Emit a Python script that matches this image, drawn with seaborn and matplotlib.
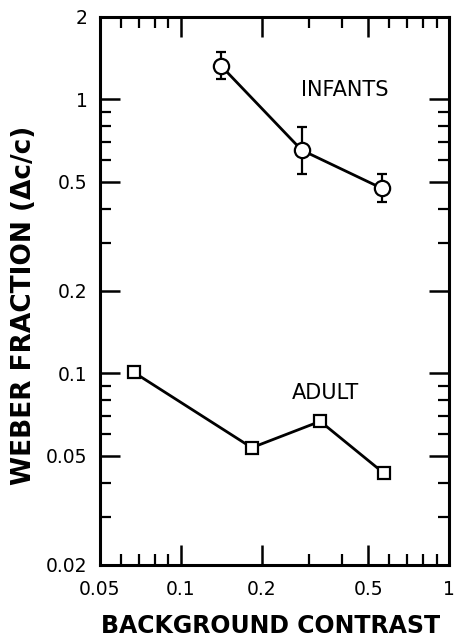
import matplotlib
matplotlib.use("Agg")
import matplotlib.pyplot as plt
import matplotlib.ticker as mticker
import seaborn as sns
import pandas as pd

# ---- data ----
infant_contrast = [0.141, 0.282, 0.562]
infant_weber = [1.33, 0.654, 0.474]
infant_err_hi = [1.49, 0.794, 0.535]
infant_err_lo = [1.19, 0.536, 0.421]

adult_contrast = [0.0668, 0.184, 0.331, 0.571]
adult_weber = [0.101, 0.0536, 0.0669, 0.0433]

x_ticks = [0.05, 0.1, 0.2, 0.5, 1]
x_ticklabels = ["0.05", "0.1", "0.2", "0.5", "1"]
y_ticks = [0.02, 0.05, 0.1, 0.2, 0.5, 1, 2]
y_ticklabels = ["0.02", "0.05", "0.1", "0.2", "0.5", "1", "2"]

sns.set_theme(style="white")
plt.rcParams["font.family"] = ["DejaVu Sans"]
plt.rcParams["text.color"] = "black"
plt.rcParams["axes.labelcolor"] = "black"
plt.rcParams["xtick.color"] = "black"
plt.rcParams["ytick.color"] = "black"

infants = pd.DataFrame({"contrast": infant_contrast, "weber": infant_weber})
adults = pd.DataFrame({"contrast": adult_contrast, "weber": adult_weber})

fig = plt.figure(figsize=(4.56, 6.38), dpi=100)
ax = fig.add_axes([100 / 456, 73 / 638, 349 / 456, 548 / 638])

ax.set_xscale("log")
ax.set_yscale("log")

# error bars for infants
yerr = [
    [w - lo for w, lo in zip(infant_weber, infant_err_lo)],
    [hi - w for w, hi in zip(infant_weber, infant_err_hi)],
]
ax.errorbar(infant_contrast, infant_weber, yerr=yerr, fmt="none",
            ecolor="black", elinewidth=1.6, capsize=3.6, capthick=1.6, zorder=2)

sns.lineplot(data=infants, x="contrast", y="weber", ax=ax, color="black",
             linewidth=2.0, marker="o", markersize=11, markerfacecolor="white",
             markeredgecolor="black", markeredgewidth=1.6, zorder=3)
sns.lineplot(data=adults, x="contrast", y="weber", ax=ax, color="black",
             linewidth=2.0, marker="s", markersize=9, markerfacecolor="white",
             markeredgecolor="black", markeredgewidth=1.6, zorder=3)

ax.set_xlim(0.05, 1)
ax.set_ylim(0.02, 2)

ax.xaxis.set_major_locator(mticker.FixedLocator(x_ticks))
ax.xaxis.set_major_formatter(mticker.FixedFormatter(x_ticklabels))
ax.xaxis.set_minor_locator(mticker.LogLocator(base=10, subs=range(2, 10), numticks=20))
ax.xaxis.set_minor_formatter(mticker.NullFormatter())
ax.yaxis.set_major_locator(mticker.FixedLocator(y_ticks))
ax.yaxis.set_major_formatter(mticker.FixedFormatter(y_ticklabels))
ax.yaxis.set_minor_locator(mticker.LogLocator(base=10, subs=range(2, 10), numticks=20))
ax.yaxis.set_minor_formatter(mticker.NullFormatter())

ax.tick_params(which="both", direction="in", top=True, right=True,
               bottom=True, left=True, color="black", labelcolor="black")
ax.tick_params(which="major", length=14.5, width=1.8, labelsize=13.5)
ax.tick_params(which="minor", length=8, width=1.6)
ax.tick_params(axis="x", which="major", pad=11)
ax.tick_params(axis="y", which="major", pad=9)

for s in ax.spines.values():
    s.set_color("black")
    s.set_linewidth(2.2)

ax.set_xlabel("BACKGROUND CONTRAST", fontsize=17, fontweight="bold", va="center",
              color="black")
ax.xaxis.set_label_coords(0.49, -0.111)
ax.set_ylabel("WEBER FRACTION (\u0394c/c)", fontsize=19, fontweight="bold", va="center",
              color="black")
ax.yaxis.set_label_coords(-0.219, 0.474)

ax.text(0.409, 1.08, "INFANTS", fontsize=15, ha="center", va="center", color="black")
ax.text(0.345, 0.085, "ADULT", fontsize=15, ha="center", va="center", color="black")

ax.grid(False)
fig.savefig("out.png", dpi=100, facecolor="white")
